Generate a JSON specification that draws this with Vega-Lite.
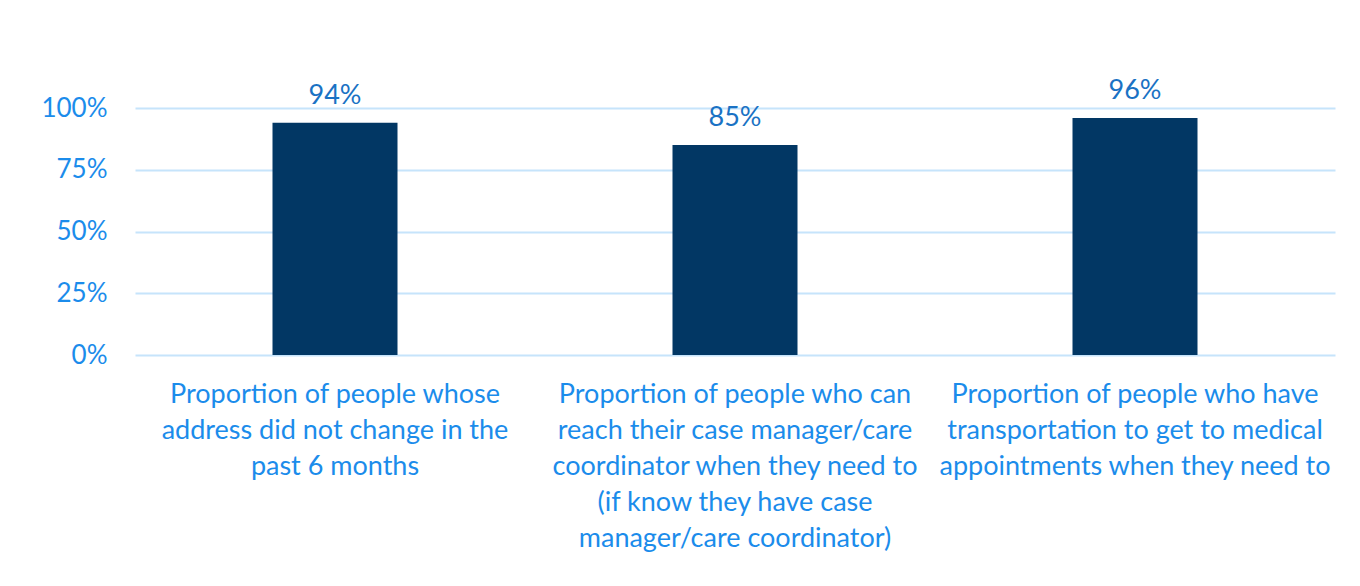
{
  "$schema": "https://vega.github.io/schema/vega-lite/v6.json",
  "width": 1200,
  "height": 247,
  "autosize": {"type": "none"},
  "padding": {"left": 135, "top": 108, "right": 25, "bottom": 231},
  "background": "white",
  "config": {
    "view": {"stroke": null},
    "font": "Lato"
  },
  "data": {
    "values": [
      {"category": "Proportion of people whose|address did not change in the|past 6 months", "value": 0.94, "label": "94%"},
      {"category": "Proportion of people who can|reach their case manager/care|coordinator when they need to|(if know they have case|manager/care coordinator)", "value": 0.85, "label": "85%"},
      {"category": "Proportion of people who have|transportation to get to medical|appointments when they need to", "value": 0.96, "label": "96%"}
    ]
  },
  "encoding": {
    "x": {
      "field": "category",
      "type": "nominal",
      "sort": null,
      "scale": {"paddingInner": 0, "paddingOuter": 0},
      "axis": {
        "title": null,
        "labelAngle": 0,
        "labelExpr": "split(datum.label, '|')",
        "labelFont": "Lato",
        "labelFontSize": 27,
        "labelColor": "#1B8CEB",
        "labelLineHeight": 36,
        "labelPadding": 26,
        "labelLimit": 0,
        "labelBaseline": "top",
        "ticks": false,
        "domain": false,
        "grid": false
      }
    },
    "y": {
      "field": "value",
      "type": "quantitative",
      "scale": {"domain": [0, 1]},
      "axis": {
        "title": null,
        "values": [0, 0.25, 0.5, 0.75, 1],
        "format": ".0%",
        "labelFont": "Lato",
        "labelFontSize": 26,
        "labelColor": "#1B8CEB",
        "labelPadding": 28,
        "ticks": false,
        "domain": false,
        "grid": true,
        "gridColor": "#C6E4FB",
        "gridWidth": 1.8
      }
    }
  },
  "layer": [
    {
      "mark": {"type": "bar", "color": "#023764", "width": {"band": 0.3125}}
    },
    {
      "mark": {"type": "text", "font": "Lato", "fontSize": 27, "color": "#1A72C4", "baseline": "alphabetic", "dy": -19},
      "encoding": {"text": {"field": "label"}}
    }
  ]
}
